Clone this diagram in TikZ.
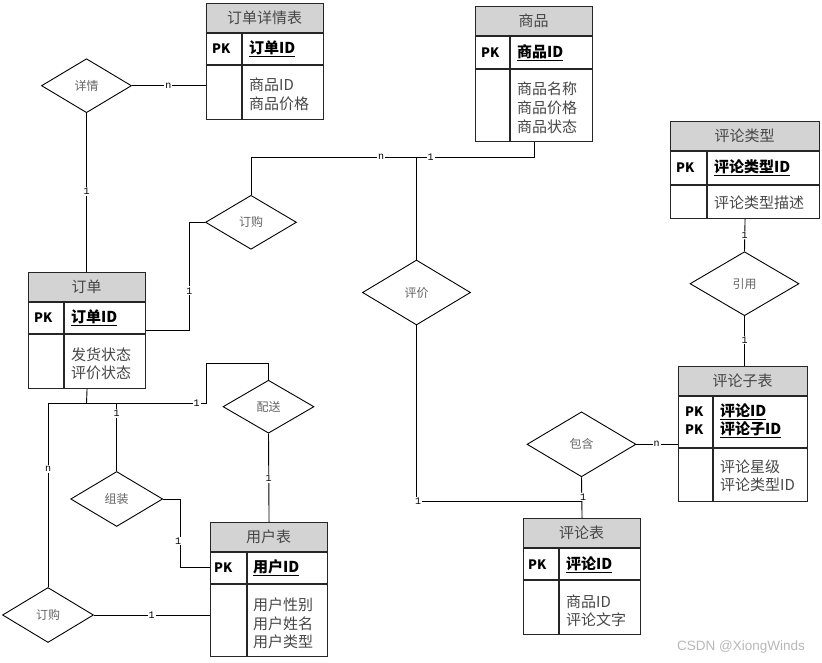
\documentclass[tikz,border=0pt]{standalone}
\usepackage{fontspec}
\setmainfont{Noto Sans CJK SC}
\newfontfamily\cardfont{Liberation Mono}
\newfontfamily\wmfont{Liberation Sans}
\usetikzlibrary{shapes.geometric}
\definecolor{hdrgray}{RGB}{211,211,211}
\definecolor{txtgray}{RGB}{70,70,70}
\definecolor{relgray}{RGB}{100,100,100}
\tikzset{
  tabbox/.style={draw=black!85, line width=1.1pt, inner sep=0pt},
  tabline/.style={draw=black!85, line width=1.1pt},
  ttl/.style={font=\fontsize{15}{15}\selectfont, text=txtgray, inner sep=0pt},
  pklbl/.style={font=\bfseries\fontsize{13}{13}\selectfont, anchor=west, inner sep=0pt},
  keylbl/.style={font=\bfseries\fontsize{15}{15}\selectfont, anchor=west, inner sep=0pt},
  attr/.style={font=\fontsize{15}{15}\selectfont, text=txtgray, anchor=west, inner sep=0pt},
  rel/.style={draw=black, line width=0.9pt, shape=diamond, inner sep=0pt, font=\fontsize{12}{12}\selectfont, text=relgray},
  conn/.style={draw=black, line width=0.9pt},
  card/.style={fill=white, inner sep=1pt, font=\cardfont\fontsize{10}{10}\selectfont}
}
\newcommand\ertab[9]{%
  \fill[hdrgray] (#2,#3) rectangle ({#2+#4},{#3+#5});
  \draw[tabline] (#2,{#3+#5}) -- ({#2+#4},{#3+#5});
  \draw[tabline] (#2,{#3+#5+#6}) -- ({#2+#4},{#3+#5+#6});
  \draw[tabline] ({#2+#8},{#3+#5}) -- ({#2+#8},{#3+#5+#6+#7});
  \node[tabbox, anchor=north west, minimum width=#4, minimum height={#5+#6+#7}] (#1) at (#2,#3) {};
  \node[ttl] (#1-title) at ({#2+#4/2},{#3+#5/2}) {#9};
}
\begin{document}
\begin{tikzpicture}[x=1pt, y=-1pt]
\useasboundingbox (0,0) rectangle (822,662);
% tables
\ertab{ddxq}{206}{3}{117}{30}{32}{54}{36}{订单详情表}
\node[pklbl] (ddxq-pk) at (212,49) {PK};
\node[keylbl] (ddxq-key) at (249,49) {\underline{订单ID}};
\node[attr] (ddxq-a1) at (249,85) {商品ID};
\node[attr] (ddxq-a2) at (249,104) {商品价格};

\ertab{sp}{475}{6}{117}{30}{33}{72}{35}{商品}
\node[pklbl] (sp-pk) at (481,52.5) {PK};
\node[keylbl] (sp-key) at (517,52.5) {\underline{商品ID}};
\node[attr] (sp-a1) at (517,88.5) {商品名称};
\node[attr] (sp-a2) at (517,107.5) {商品价格};
\node[attr] (sp-a3) at (517,126.5) {商品状态};

\ertab{pllx}{670}{121}{149}{30}{34}{33}{37}{评论类型}
\node[pklbl] (pllx-pk) at (676,168) {PK};
\node[keylbl] (pllx-key) at (714,168) {\underline{评论类型ID}};
\node[attr] (pllx-a1) at (714,203) {评论类型描述};

\ertab{plzb}{678}{366}{129}{30}{52}{53}{35}{评论子表}
\node[pklbl] (plzb-pk1) at (685,411.7) {PK};
\node[pklbl] (plzb-pk2) at (685,430) {PK};
\node[keylbl] (plzb-key1) at (720,411.7) {\underline{评论ID}};
\node[keylbl] (plzb-key2) at (720,430) {\underline{评论子ID}};
\node[attr] (plzb-a1) at (720,467) {评论星级};
\node[attr] (plzb-a2) at (720,485) {评论类型ID};

\ertab{dd}{28}{272}{117}{30}{32}{54}{36}{订单}
\node[pklbl] (dd-pk) at (34,318) {PK};
\node[keylbl] (dd-key) at (71,318) {\underline{订单ID}};
\node[attr] (dd-a1) at (71,355) {发货状态};
\node[attr] (dd-a2) at (71,373) {评价状态};

\ertab{yh}{210}{522}{117}{30}{32}{72}{37}{用户表}
\node[pklbl] (yh-pk) at (214,568) {PK};
\node[keylbl] (yh-key) at (253,568) {\underline{用户ID}};
\node[attr] (yh-a1) at (253,605) {用户性别};
\node[attr] (yh-a2) at (253,623.3) {用户姓名};
\node[attr] (yh-a3) at (253,641.7) {用户类型};

\ertab{plb}{523}{518}{117}{30}{32}{54}{36}{评论表}
\node[pklbl] (plb-pk) at (528,564.5) {PK};
\node[keylbl] (plb-key) at (566,564.5) {\underline{评论ID}};
\node[attr] (plb-a1) at (566,602) {商品ID};
\node[attr] (plb-a2) at (566,620) {评论文字};

% relationships
\node[rel, minimum width=90, minimum height=54] (xq) at (86.5,85.7) {详情};
\node[rel, minimum width=91, minimum height=54] (dg1) at (251,222.3) {订购};
\node[rel, minimum width=108, minimum height=65] (pj) at (416.5,292.5) {评价};
\node[rel, minimum width=109, minimum height=64] (yy) at (744.5,283.7) {引用};
\node[rel, minimum width=109, minimum height=65] (bh) at (581.5,444.3) {包含};
\node[rel, minimum width=91, minimum height=53] (ps) at (268.5,406.7) {配送};
\node[rel, minimum width=92, minimum height=55] (zz) at (116.7,499) {组装};
\node[rel, minimum width=91, minimum height=55] (dg2) at (48,615) {订购};

% connectors
\draw[conn] (xq.east) -- (xq.east -| ddxq.west);
\draw[conn] (xq.south) -- (xq.south |- dd.north);
\coordinate (c1) at (189.3,330);
\draw[conn] (c1 -| dd.east) -- (c1) |- (dg1.west);
\coordinate (c2) at (416.5,157.3);
\draw[conn] (dg1.north) |- (c2 -| sp.south) -- (sp.south);
\draw[conn] (c2) -- (pj.north);
\coordinate (c3) at (581.5,501);
\draw[conn] (pj.south) |- (c3);
\draw[conn] (bh.south) -- (plb.north);
\draw[conn] (bh.east) -- (bh.east -| plzb.west);
\draw[conn] (pllx.south) -- (yy.north);
\draw[conn] (yy.south) -- (yy.south |- plzb.north);
\coordinate (c4) at (86.5,403.3);
\draw[conn] (dd.south) -- (c4);
\coordinate (c5) at (206.7,403.3);
\coordinate (c6) at (206.7,363.3);
\draw[conn] (dg2.north) |- (c5) -- (c6) -| (ps.north);
\draw[conn] (zz.north) -- (zz.north |- c4);
\draw[conn] (ps.south) -- (yh.north);
\coordinate (c7) at (180,567.3);
\draw[conn] (zz.east) -| (c7) -- (c7 -| yh.west);
\draw[conn] (dg2.east) -- (dg2.east -| yh.west);

% cardinalities
\node[card] (l1) at (168.3,85.7) {n};
\node[card] (l2) at (86.5,191.7) {1};
\node[card] (l3) at (189.3,290.7) {1};
\node[card] (l4) at (381,157.3) {n};
\node[card] (l5) at (430.7,157.3) {1};
\node[card] (l6) at (418,501) {1};
\node[card] (l7) at (583,497) {1};
\node[card] (l8) at (656.7,444.3) {n};
\node[card] (l9) at (744.5,235) {1};
\node[card] (l10) at (744.5,340) {1};
\node[card] (l11) at (196.7,403.3) {1};
\node[card] (l12) at (116.7,413.3) {1};
\node[card] (l13) at (48,469) {n};
\node[card] (l14) at (268.5,478.3) {1};
\node[card] (l15) at (178,541) {1};
\node[card] (l16) at (151.7,615) {1};

\node[font=\wmfont\fontsize{13.5}{13.5}\selectfont, text=black!28] (wm) at (741,647) {CSDN @XiongWinds};
\end{tikzpicture}
\end{document}
